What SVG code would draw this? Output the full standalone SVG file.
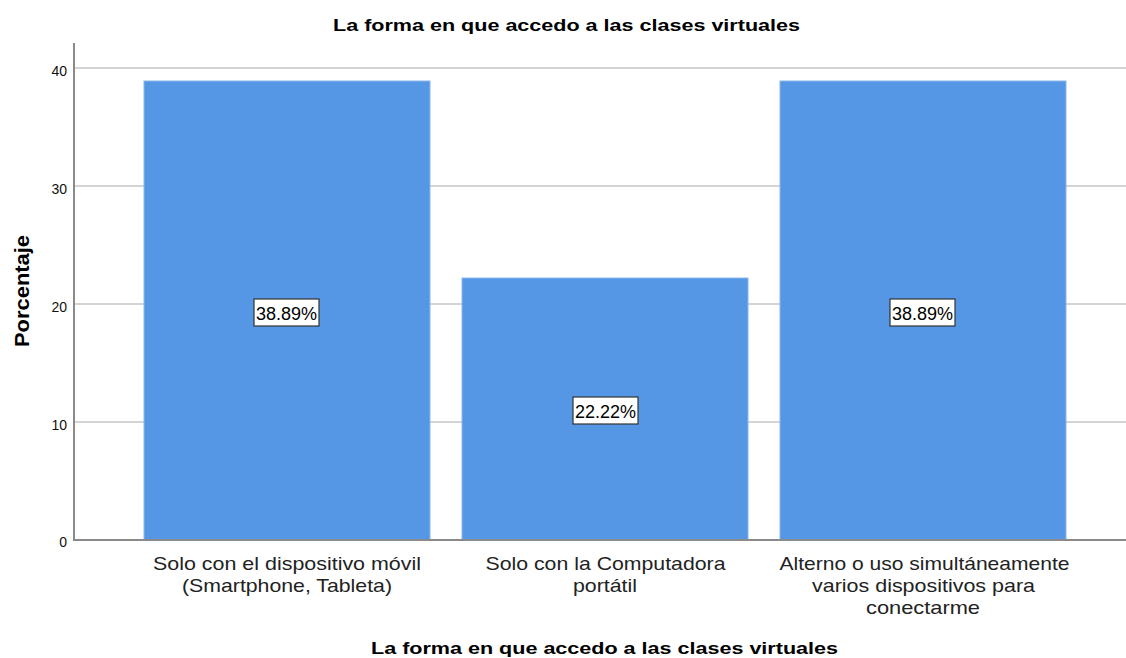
<svg xmlns="http://www.w3.org/2000/svg" width="1126" height="658" viewBox="0 0 1126 658">
<style>
.grid{stroke:#d4d4d4;stroke-width:2}
.axis{stroke:#8a8a8a;stroke-width:2}
.bar{fill:#5596e5;stroke:#8ab8ee;stroke-width:1}
.tick{font-family:"Liberation Sans",Arial,sans-serif;font-size:14px;fill:#111;text-anchor:end}
.cat{font-family:"Liberation Sans",Arial,sans-serif;font-size:18.5px;fill:#222;text-anchor:middle}
.title{font-family:"Liberation Sans",Arial,sans-serif;font-size:17px;font-weight:bold;fill:#000;text-anchor:middle}
.lbox{fill:#fff;stroke:#333;stroke-width:1.2}
.ltxt{font-family:"Liberation Sans",Arial,sans-serif;font-size:18px;fill:#000;text-anchor:middle}
</style>
<rect width="1126" height="658" fill="#fff"/>
<text class="title" x="566.5" y="31" textLength="467" lengthAdjust="spacingAndGlyphs">La forma en que accedo a las clases virtuales</text>
<g id="grid">
<line class="grid" x1="75" y1="68" x2="1126" y2="68"/>
<line class="grid" x1="75" y1="186" x2="1126" y2="186"/>
<line class="grid" x1="75" y1="304" x2="1126" y2="304"/>
<line class="grid" x1="75" y1="422" x2="1126" y2="422"/>
</g>
<g id="ticks">
<text class="tick" x="67" y="75.5">40</text>
<text class="tick" x="67" y="193.5">30</text>
<text class="tick" x="67" y="311.5">20</text>
<text class="tick" x="67" y="429.5">10</text>
<text class="tick" x="67" y="547">0</text>
</g>
<g id="bar1">
<rect class="bar" x="144" y="81" width="286" height="459"/>
<rect class="lbox" x="254" y="299" width="65" height="27"/>
<text class="ltxt" x="286.5" y="319.5">38.89%</text>
<text class="cat" x="287" y="570" textLength="268" lengthAdjust="spacingAndGlyphs">Solo con el dispositivo móvil</text>
<text class="cat" x="287" y="592" textLength="210" lengthAdjust="spacingAndGlyphs">(Smartphone, Tableta)</text>
</g>
<g id="bar2">
<rect class="bar" x="462" y="278" width="286" height="262"/>
<rect class="lbox" x="573" y="397" width="65" height="27"/>
<text class="ltxt" x="605.5" y="417.5">22.22%</text>
<text class="cat" x="605.5" y="570" textLength="240" lengthAdjust="spacingAndGlyphs">Solo con la Computadora</text>
<text class="cat" x="605" y="592" textLength="64" lengthAdjust="spacingAndGlyphs">portátil</text>
</g>
<g id="bar3">
<rect class="bar" x="780" y="81" width="286" height="459"/>
<rect class="lbox" x="890" y="299" width="65" height="27"/>
<text class="ltxt" x="922.5" y="319.5">38.89%</text>
<text class="cat" x="924.5" y="570" textLength="290" lengthAdjust="spacingAndGlyphs">Alterno o uso simultáneamente</text>
<text class="cat" x="923.5" y="592" textLength="223" lengthAdjust="spacingAndGlyphs">varios dispositivos para</text>
<text class="cat" x="923" y="614" textLength="114" lengthAdjust="spacingAndGlyphs">conectarme</text>
</g>
<g id="axes">
<line class="axis" x1="74" y1="43" x2="74" y2="541"/>
<line class="axis" x1="73" y1="540" x2="1126" y2="540"/>
</g>
<text class="title" x="29" y="291" transform="rotate(-90 29 291)" style="font-size:20px" textLength="112" lengthAdjust="spacingAndGlyphs">Porcentaje</text>
<text class="title" x="604.5" y="654" textLength="467" lengthAdjust="spacingAndGlyphs">La forma en que accedo a las clases virtuales</text>
</svg>
